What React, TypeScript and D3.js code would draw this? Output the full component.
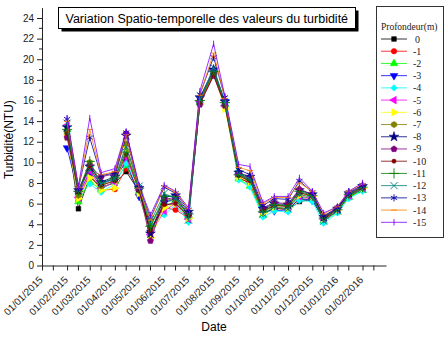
import React, { useEffect, useRef } from 'react';
import * as d3 from 'd3';

// sampling dates (twice a month)
const sampleDates = [
  '01/02/2015', '15/02/2015', '01/03/2015', '15/03/2015', '01/04/2015',
  '15/04/2015', '01/05/2015', '15/05/2015', '01/06/2015', '15/06/2015',
  '01/07/2015', '15/07/2015', '01/08/2015', '15/08/2015', '01/09/2015',
  '15/09/2015', '01/10/2015', '15/10/2015', '01/11/2015', '15/11/2015',
  '01/12/2015', '15/12/2015', '01/01/2016', '15/01/2016', '01/02/2016',
];

const depthLabels = ['0', '-1', '-2', '-3', '-4', '-5', '-6', '-7', '-8', '-9', '-10', '-11', '-12', '-13', '-14', '-15'];

const monthLabels = [
  '01/01/2015', '01/02/2015', '01/03/2015', '01/04/2015', '01/05/2015',
  '01/06/2015', '01/07/2015', '01/08/2015', '01/09/2015', '01/10/2015',
  '01/11/2015', '01/12/2015', '01/01/2016', '01/02/2016',
];

const yTicks = [0, 2, 4, 6, 8, 10, 12, 14, 16, 18, 20, 22, 24];

// turbidity (NTU) per depth
const p0 = [13.0, 5.5, 8.6, 7.6, 8.0, 9.1, 7.2, 3.5, 5.8, 6.1, 4.7, 15.8, 18.5, 15.6, 8.5, 8.0, 5.0, 5.6, 5.4, 6.2, 6.4, 4.4, 5.3, 6.6, 7.4];
const p1 = [12.7, 6.3, 8.9, 7.3, 7.4, 9.4, 7.3, 3.3, 5.6, 5.4, 4.6, 15.7, 18.6, 15.5, 8.6, 7.9, 5.1, 5.5, 5.5, 6.4, 6.5, 4.5, 5.3, 6.7, 7.5];
const p2 = [13.2, 6.2, 8.1, 7.4, 8.2, 9.7, 7.2, 4.1, 6.2, 6.3, 4.8, 15.8, 18.7, 15.6, 8.4, 7.7, 4.9, 5.6, 5.6, 6.6, 6.6, 4.3, 5.2, 6.6, 7.3];
const p3 = [11.4, 7.0, 9.0, 8.0, 8.4, 10.1, 6.7, 3.2, 6.1, 6.5, 4.9, 16.2, 18.8, 15.9, 8.7, 8.2, 5.3, 5.3, 5.4, 6.5, 6.3, 4.6, 5.4, 6.8, 7.6];
const p4 = [12.8, 6.9, 7.9, 7.1, 7.9, 9.9, 7.6, 4.0, 4.9, 5.9, 4.2, 15.9, 19.0, 15.7, 8.3, 7.6, 4.7, 5.3, 5.2, 6.3, 6.2, 4.1, 5.1, 6.5, 7.2];
const p5 = [13.6, 6.6, 9.2, 7.5, 8.1, 10.5, 7.3, 3.0, 5.3, 6.0, 4.5, 15.9, 18.9, 15.5, 8.8, 8.3, 5.2, 5.8, 5.7, 6.7, 6.6, 4.5, 5.4, 6.8, 7.5];
const p6 = [12.5, 6.5, 8.5, 7.3, 7.5, 11.2, 7.0, 2.7, 5.6, 6.0, 4.6, 15.7, 18.6, 15.2, 8.6, 8.1, 5.1, 5.7, 5.6, 6.8, 6.7, 4.6, 5.4, 6.9, 7.5];
const p7 = [13.0, 6.8, 10.0, 7.7, 8.3, 11.8, 7.4, 3.7, 6.5, 6.3, 5.0, 16.0, 18.7, 15.7, 8.9, 8.4, 5.4, 5.9, 5.7, 7.0, 6.8, 4.6, 5.5, 6.9, 7.6];
const p8 = [13.4, 7.3, 9.6, 8.1, 8.6, 12.6, 7.5, 3.1, 6.6, 6.8, 5.2, 16.3, 19.0, 15.9, 9.0, 8.6, 5.5, 6.0, 5.9, 7.3, 6.9, 4.7, 5.5, 7.0, 7.7];
const p9 = [12.4, 7.4, 9.7, 8.6, 8.9, 12.8, 7.4, 2.4, 6.4, 6.6, 4.9, 15.6, 18.4, 15.5, 8.9, 8.5, 5.6, 6.1, 6.0, 7.4, 6.9, 4.7, 5.6, 7.0, 7.6];
const p10 = [12.8, 7.1, 9.5, 7.8, 8.2, 10.8, 7.2, 3.4, 5.9, 6.0, 4.8, 15.8, 18.5, 15.6, 8.7, 8.2, 5.3, 5.8, 5.8, 7.1, 6.7, 4.5, 5.5, 6.8, 7.5];
const p11 = [13.2, 7.2, 10.1, 8.0, 8.5, 11.0, 7.5, 3.8, 6.7, 6.7, 5.0, 16.0, 18.8, 15.8, 8.8, 8.3, 5.2, 5.9, 5.8, 7.2, 6.8, 4.6, 5.4, 6.9, 7.6];
const p12 = [13.8, 7.3, 9.3, 7.9, 8.4, 11.5, 7.7, 4.2, 7.0, 6.5, 4.4, 16.1, 19.2, 15.8, 8.9, 8.4, 5.0, 5.7, 5.5, 6.9, 6.6, 4.3, 5.3, 6.8, 7.4];
const p13 = [14.2, 7.5, 12.4, 8.7, 9.0, 12.9, 7.6, 4.6, 7.6, 7.0, 5.4, 16.6, 20.2, 16.3, 9.3, 8.8, 5.8, 6.5, 6.4, 8.2, 7.1, 4.8, 5.6, 7.1, 7.8];
const p14 = [14.0, 7.6, 13.2, 8.8, 9.1, 12.7, 7.5, 4.4, 7.7, 7.1, 5.5, 16.5, 20.6, 16.2, 9.5, 9.2, 6.0, 6.6, 6.6, 8.0, 7.2, 5.0, 5.7, 7.2, 7.9];
const p15 = [14.3, 7.7, 14.3, 9.0, 9.4, 13.0, 7.8, 4.9, 7.8, 7.2, 5.6, 16.9, 21.5, 16.4, 9.8, 9.6, 6.1, 6.7, 6.7, 8.5, 7.2, 5.1, 5.7, 7.2, 8.0];

const profiles = [p0, p1, p2, p3, p4, p5, p6, p7, p8, p9, p10, p11, p12, p13, p14, p15];

const colors = [
  '#000000', '#ff0000', '#00ff00', '#0000ff', '#00ffff', '#ff00ff', '#ffff00', '#808000',
  '#000080', '#800080', '#800000', '#008000', '#008080', '#0000a0', '#ff8000', '#8000ff',
];

// regular polygon symbol, first vertex pointing up then rotated by rot
const polygon = (n: number, rot = 0) => ({
  draw(ctx: any, size: number) {
    const r = Math.sqrt(size / ((n * Math.sin((2 * Math.PI) / n)) / 2));
    for (let i = 0; i < n; i++) {
      const a = rot + (i * 2 * Math.PI) / n - Math.PI / 2;
      const px = r * Math.cos(a);
      const py = r * Math.sin(a);
      if (i === 0) ctx.moveTo(px, py);
      else ctx.lineTo(px, py);
    }
    ctx.closePath();
  },
});

const dash = {
  draw(ctx: any, size: number) {
    const r = Math.sqrt(size) / 2;
    ctx.moveTo(-r, 0);
    ctx.lineTo(r, 0);
  },
};

const bar = {
  draw(ctx: any, size: number) {
    const r = Math.sqrt(size) / 2;
    ctx.moveTo(0, -r);
    ctx.lineTo(0, r);
  },
};

const markers: { type: any; size: number; open?: boolean }[] = [
  { type: d3.symbolSquare, size: 22 },
  { type: d3.symbolCircle, size: 24 },
  { type: polygon(3, 0), size: 26 },
  { type: polygon(3, Math.PI), size: 26 },
  { type: polygon(4, 0), size: 22 },
  { type: polygon(3, -Math.PI / 2), size: 26 },
  { type: polygon(3, Math.PI / 2), size: 26 },
  { type: polygon(6, 0), size: 26 },
  { type: d3.symbolStar, size: 30 },
  { type: polygon(5, 0), size: 26 },
  { type: d3.symbolCircle, size: 14 },
  { type: d3.symbolPlus, size: 36, open: true },
  { type: d3.symbolTimes, size: 36, open: true },
  { type: d3.symbolAsterisk, size: 36, open: true },
  { type: dash, size: 36, open: true },
  { type: bar, size: 40, open: true },
];

const W = 448;
const H = 346;
const sans = '"Liberation Sans", Arial, sans-serif';
const serif = '"Liberation Serif", "Times New Roman", serif';

export default function App() {
  const ref = useRef<SVGSVGElement>(null);

  useEffect(() => {
    const svg = d3.select(ref.current);
    svg.selectAll('*').remove();

    const parse = d3.timeParse('%d/%m/%Y');
    const fmt = d3.timeFormat('%d/%m/%Y');
    const dates = sampleDates.map((s) => parse(s) as Date);

    const x = d3
      .scaleTime()
      .domain([new Date(2015, 0, 1), new Date(2016, 2, 1)])
      .range([42, 386]);
    const y = d3.scaleLinear().domain([0, 25]).range([265.5, 7.7]);

    svg.append('rect').attr('width', W).attr('height', H).attr('fill', '#fff');

    // y axis
    const yAxis = svg
      .append('g')
      .attr('transform', `translate(${x.range()[0]},0)`)
      .call(d3.axisLeft(y).tickValues(yTicks).tickSize(5).tickSizeOuter(0).tickPadding(3));
    yAxis.selectAll('text').style('font-family', sans).style('font-size', '10px').attr('fill', '#222');
    yAxis.selectAll('line, path').attr('stroke', '#222');
    yAxis
      .selectAll('.minor')
      .data(d3.range(1, 25, 2))
      .enter()
      .append('line')
      .attr('x1', 0)
      .attr('x2', -3)
      .attr('y1', (d) => y(d))
      .attr('y2', (d) => y(d))
      .attr('stroke', '#222');

    // x axis, labelled each month
    const monthTicks = monthLabels.map((s) => parse(s) as Date);
    const xAxis = svg
      .append('g')
      .attr('transform', `translate(0,${y(0)})`)
      .call(d3.axisBottom(x).tickValues(monthTicks).tickFormat((d: any) => fmt(d)).tickSize(5).tickSizeOuter(0));
    xAxis.selectAll('line, path').attr('stroke', '#222');
    xAxis
      .selectAll('text')
      .attr('y', null)
      .attr('dy', null)
      .attr('text-anchor', 'end')
      .attr('transform', 'translate(1,15) rotate(-45)')
      .style('font-family', sans)
      .style('font-size', '10px')
      .attr('fill', '#222');
    const midTicks = monthTicks.map((d) => d3.timeDay.offset(d, 14));
    xAxis
      .selectAll('.minor')
      .data(midTicks)
      .enter()
      .append('line')
      .attr('x1', (d) => x(d))
      .attr('x2', (d) => x(d))
      .attr('y1', 0)
      .attr('y2', 5)
      .attr('stroke', '#222');

    // axis titles
    svg
      .append('text')
      .attr('transform', `translate(13,${(y(0) + y(25)) / 2 + 3}) rotate(-90)`)
      .attr('text-anchor', 'middle')
      .style('font-family', sans)
      .style('font-size', '12px')
      .text('Turbidité(NTU)');
    svg
      .append('text')
      .attr('x', 214)
      .attr('y', 331)
      .attr('text-anchor', 'middle')
      .style('font-family', sans)
      .style('font-size', '12px')
      .text('Date');

    // profiles
    const line = d3
      .line<number>()
      .x((d, i) => x(dates[i]))
      .y((d) => y(d));
    const symbolPath = (i: number) => d3.symbol().type(markers[i].type).size(markers[i].size)();

    profiles.forEach((values, i) => {
      const g = svg.append('g');
      g.append('path')
        .attr('d', line(values))
        .attr('fill', 'none')
        .attr('stroke', colors[i])
        .attr('stroke-width', 0.8);
      g.selectAll('path.mk')
        .data(values)
        .enter()
        .append('path')
        .attr('class', 'mk')
        .attr('d', symbolPath(i))
        .attr('transform', (d, j) => `translate(${x(dates[j])},${y(d)})`)
        .attr('fill', markers[i].open ? 'none' : colors[i])
        .attr('stroke', colors[i])
        .attr('stroke-width', markers[i].open ? 0.9 : 0.5);
    });

    // title box with drop shadow
    svg.append('rect').attr('x', 61.5).attr('y', 10.5).attr('width', 297).attr('height', 21).attr('fill', '#000');
    svg
      .append('rect')
      .attr('x', 58.5)
      .attr('y', 7.5)
      .attr('width', 297)
      .attr('height', 21)
      .attr('fill', '#fff')
      .attr('stroke', '#000');
    svg
      .append('text')
      .attr('x', 65.5)
      .attr('y', 22.5)
      .style('font-family', sans)
      .style('font-size', '12.5px')
      .text('Variation Spatio-temporelle des valeurs du turbidité');

    // legend
    const leg = svg.append('g');
    leg
      .append('rect')
      .attr('x', 376.5)
      .attr('y', 6.5)
      .attr('width', 67)
      .attr('height', 231)
      .attr('fill', '#fff')
      .attr('stroke', '#333');
    leg
      .append('text')
      .attr('x', 381)
      .attr('y', 30)
      .attr('fill', '#222')
      .style('font-family', serif)
      .style('font-size', '9.5px')
      .text('Profondeur(m)');
    depthLabels.forEach((lab, i) => {
      const cy = 39 + i * 12.22;
      leg
        .append('line')
        .attr('x1', 381)
        .attr('x2', 407)
        .attr('y1', cy)
        .attr('y2', cy)
        .attr('stroke', colors[i])
        .attr('stroke-width', 0.8);
      leg
        .append('path')
        .attr('d', symbolPath(i))
        .attr('transform', `translate(394,${cy})`)
        .attr('fill', markers[i].open ? 'none' : colors[i])
        .attr('stroke', colors[i])
        .attr('stroke-width', markers[i].open ? 0.9 : 0.5);
      leg
        .append('text')
        .attr('x', i === 0 ? 415 : 413)
        .attr('y', cy + 3.5)
        .attr('fill', '#222')
        .style('font-family', serif)
        .style('font-size', '10px')
        .text(lab);
    });
  }, []);

  return (
    <svg
      ref={ref}
      width={W}
      height={H}
      style={{ position: 'absolute', left: 0, top: 0, display: 'block' }}
    />
  );
}
